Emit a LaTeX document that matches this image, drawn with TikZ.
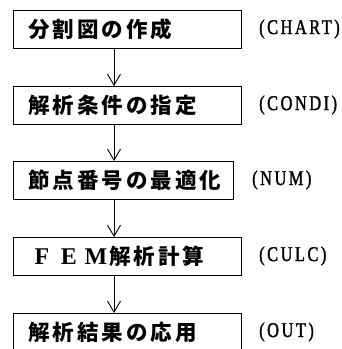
\documentclass[tikz,border=0pt]{standalone}
\usepackage{fontspec}
\usetikzlibrary{arrows.meta}
\newfontfamily\jpfont{Noto Sans CJK JP}[LetterSpace=14]
\newfontfamily\femfont{Liberation Serif}
\newfontfamily\labfont{Liberation Serif}[FakeStretch=0.78,LetterSpace=12,FakeBold=1.5]
\begin{document}
\begin{tikzpicture}[x=1pt,y=-1pt,
  stepbox/.style={draw,line width=0.9pt,anchor=north west,minimum height=38pt,
    inner xsep=15pt,inner ysep=0pt,align=left,font=\jpfont\bfseries\fontsize{21.5}{23}\selectfont},
  lab/.style={anchor=west,inner sep=0pt,font=\labfont\fontsize{21}{23}\selectfont},
  arr/.style={line width=0.9pt,-{Straight Barb[length=11pt,width=13pt,line width=0.9pt]}}]
\clip (0,0) rectangle (342,349);
\useasboundingbox (0,0) rectangle (342,349);
\node[stepbox,text width=198pt] (b1) at (13,10) {分割図の作成};
\node[stepbox,text width=198pt] (b2) at (13,86) {解析条件の指定};
\node[stepbox,text width=190pt] (b3) at (13,161) {節点番号の最適化};
\node[stepbox,text width=198pt] (b4) at (13,237) {{\femfont\bfseries\fontsize{24}{24}\selectfont\makebox[27pt]{F}\makebox[27pt]{E}\makebox[27pt]{M}}解析計算};
\node[stepbox,text width=198pt] (b5) at (13,313) {解析結果の応用};
\node[lab] (l1) at (259,29) {(CHART)};
\node[lab] (l2) at (259,105) {(CONDI)};
\node[lab] (l3) at (252,180) {(NUM)};
\node[lab] (l4) at (259,256) {(CULC)};
\node[lab] (l5) at (259,332) {(OUT)};
\foreach \a/\b in {b1/b2,b2/b3,b3/b4,b4/b5}
  \draw[arr] ([xshift=101pt]\a.south west) -- ([xshift=101pt]\b.north west);
\end{tikzpicture}
\end{document}
